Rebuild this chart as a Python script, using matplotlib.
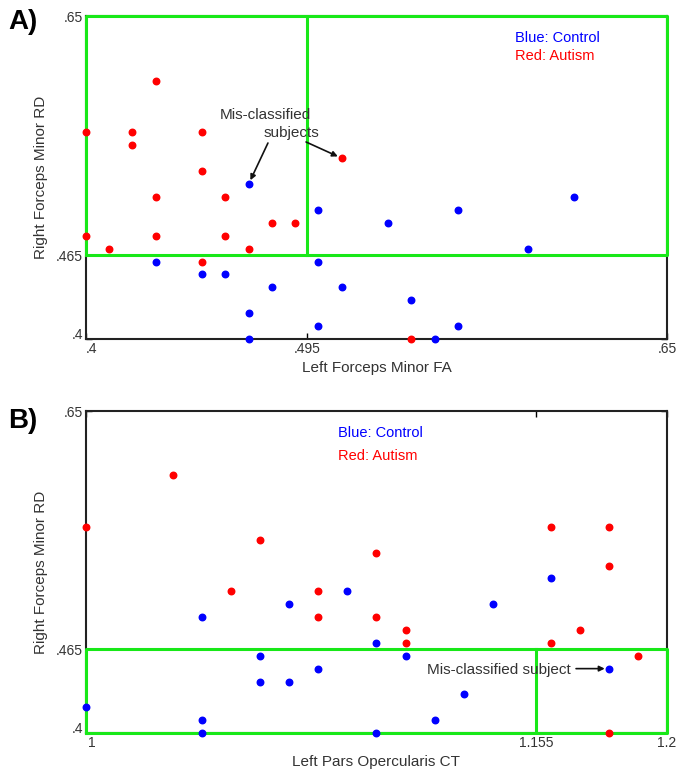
import matplotlib
matplotlib.use("Agg")
import matplotlib.pyplot as plt
import matplotlib.transforms as mtransforms

plt.rcParams['font.family'] = ['Liberation Sans', 'DejaVu Sans']

# Panel A: Left Forceps Minor FA vs Right Forceps Minor RD
a_red_x = [0.40, 0.42, 0.42, 0.43, 0.45, 0.45, 0.43, 0.46, 0.40, 0.43, 0.46, 0.41, 0.47, 0.48, 0.49, 0.51, 0.45, 0.54]
a_red_y = [0.56, 0.56, 0.55, 0.60, 0.56, 0.53, 0.51, 0.51, 0.48, 0.48, 0.48, 0.47, 0.47, 0.49, 0.49, 0.54, 0.46, 0.40]
a_blue_x = [0.47, 0.50, 0.53, 0.56, 0.61, 0.59, 0.43, 0.50, 0.45, 0.46, 0.48, 0.51, 0.54, 0.47, 0.50, 0.56, 0.47, 0.55]
a_blue_y = [0.52, 0.50, 0.49, 0.50, 0.51, 0.47, 0.46, 0.46, 0.45, 0.45, 0.44, 0.44, 0.43, 0.42, 0.41, 0.41, 0.40, 0.40]

# Panel B: Left Pars Opercularis CT vs Right Forceps Minor RD
b_red_x = [1.03, 1.00, 1.06, 1.10, 1.05, 1.08, 1.08, 1.10, 1.11, 1.11, 1.16, 1.18, 1.18, 1.17, 1.16, 1.19, 1.18]
b_red_y = [0.60, 0.56, 0.55, 0.54, 0.51, 0.51, 0.49, 0.49, 0.48, 0.47, 0.56, 0.56, 0.53, 0.48, 0.47, 0.46, 0.40]
b_blue_x = [1.16, 1.09, 1.07, 1.14, 1.04, 1.10, 1.06, 1.11, 1.08, 1.18, 1.06, 1.07, 1.13, 1.00, 1.04, 1.12, 1.04, 1.10]
b_blue_y = [0.52, 0.51, 0.50, 0.50, 0.49, 0.47, 0.46, 0.46, 0.45, 0.45, 0.44, 0.44, 0.43, 0.42, 0.41, 0.41, 0.40, 0.40]

a_xlim = (0.4, 0.65)
b_xlim = (1.0, 1.2)
ylim = (0.4, 0.65)
a_xticks = [0.4, 0.495, 0.65]
a_xticklabels = ['.4', '.495', '.65']
b_xticks = [1.0, 1.155, 1.2]
b_xticklabels = ['1', '1.155', '1.2']
yticks = [0.4, 0.465, 0.65]
yticklabels = ['.4', '.465', '.65']

green = '#18e818'

fig = plt.figure(figsize=(6.85, 7.73), dpi=100)
axA = fig.add_axes([0.1255, 0.5614, 0.8482, 0.4179])
axB = fig.add_axes([0.1255, 0.0517, 0.8482, 0.4166])


def style(ax, xlim, xticks, xticklabels, xlabel):
    ax.set_xlim(*xlim)
    ax.set_ylim(*ylim)
    ax.set_xticks(xticks)
    ax.set_xticklabels(xticklabels)
    ax.set_yticks(yticks)
    ax.set_yticklabels(yticklabels)
    ax.tick_params(direction='in', length=4, width=1, labelsize=10,
                   labelcolor='#333333', top=True, right=True, pad=2)
    for s in ax.spines.values():
        s.set_linewidth(1.5)
        s.set_color('#222222')
    ax.set_xlabel(xlabel, fontsize=11, color='#333333', labelpad=4)
    ax.set_ylabel('Right Forceps Minor RD', fontsize=11, color='#333333', labelpad=6)
    # nudge the two corner labels apart, like the original
    up = mtransforms.ScaledTranslation(0, 4 / 72, fig.dpi_scale_trans)
    right = mtransforms.ScaledTranslation(4 / 72, 0, fig.dpi_scale_trans)
    ylab = ax.yaxis.get_major_ticks()[0].label1
    ylab.set_transform(ylab.get_transform() + up)
    xlab = ax.xaxis.get_major_ticks()[0].label1
    xlab.set_transform(xlab.get_transform() + right)


# ---- Panel A ----
style(axA, a_xlim, a_xticks, a_xticklabels, 'Left Forceps Minor FA')
axA.plot([0.4, 0.65, 0.65, 0.4, 0.4], [0.465, 0.465, 0.65, 0.65, 0.465],
         color=green, lw=2.2, clip_on=False, zorder=3)
axA.plot([0.495, 0.495], [0.465, 0.65], color=green, lw=2.2, zorder=3)
axA.scatter(a_red_x, a_red_y, s=22, color='#ff0000', clip_on=False, zorder=4)
axA.scatter(a_blue_x, a_blue_y, s=22, color='#0000ff', clip_on=False, zorder=4)
axA.text(0.738, 0.932, 'Blue: Control', color='#0000ff', fontsize=10.5,
         transform=axA.transAxes, va='center')
axA.text(0.738, 0.876, 'Red: Autism', color='#ff0000', fontsize=10.5,
         transform=axA.transAxes, va='center')
axA.text(0.4577, 0.5734, 'Mis-classified', fontsize=11, color='#333333', va='center')
axA.text(0.4885, 0.5594, 'subjects', fontsize=11, color='#333333', va='center', ha='center')
axA.annotate('', xy=(0.47, 0.52), xytext=(0.4783, 0.5517),
             arrowprops=dict(arrowstyle='-|>', color='#111111', lw=1.2, mutation_scale=8,
                             shrinkA=0, shrinkB=3))
axA.annotate('', xy=(0.51, 0.54), xytext=(0.4947, 0.5525),
             arrowprops=dict(arrowstyle='-|>', color='#111111', lw=1.2, mutation_scale=8,
                             shrinkA=0, shrinkB=3))
fig.text(0.012, 0.972, 'A)', fontsize=20, fontweight='bold', va='center')

# ---- Panel B ----
style(axB, b_xlim, b_xticks, b_xticklabels, 'Left Pars Opercularis CT')
axB.plot([1.0, 1.2, 1.2, 1.0, 1.0], [0.4, 0.4, 0.465, 0.465, 0.4],
         color=green, lw=2.2, clip_on=False, zorder=3)
axB.plot([1.155, 1.155], [0.4, 0.465], color=green, lw=2.2, zorder=3)
axB.scatter(b_red_x, b_red_y, s=22, color='#ff0000', clip_on=False, zorder=4)
axB.scatter(b_blue_x, b_blue_y, s=22, color='#0000ff', clip_on=False, zorder=4)
axB.text(0.434, 0.932, 'Blue: Control', color='#0000ff', fontsize=10.5,
         transform=axB.transAxes, va='center')
axB.text(0.434, 0.860, 'Red: Autism', color='#ff0000', fontsize=10.5,
         transform=axB.transAxes, va='center')
axB.text(1.1174, 0.4489, 'Mis-classified subject', fontsize=11, color='#333333', va='center')
axB.annotate('', xy=(1.18, 0.45), xytext=(1.1687, 0.45),
             arrowprops=dict(arrowstyle='-|>', color='#111111', lw=1.2, mutation_scale=8,
                             shrinkA=0, shrinkB=3))
fig.text(0.012, 0.455, 'B)', fontsize=20, fontweight='bold', va='center')

fig.savefig('out.png', dpi=100)
